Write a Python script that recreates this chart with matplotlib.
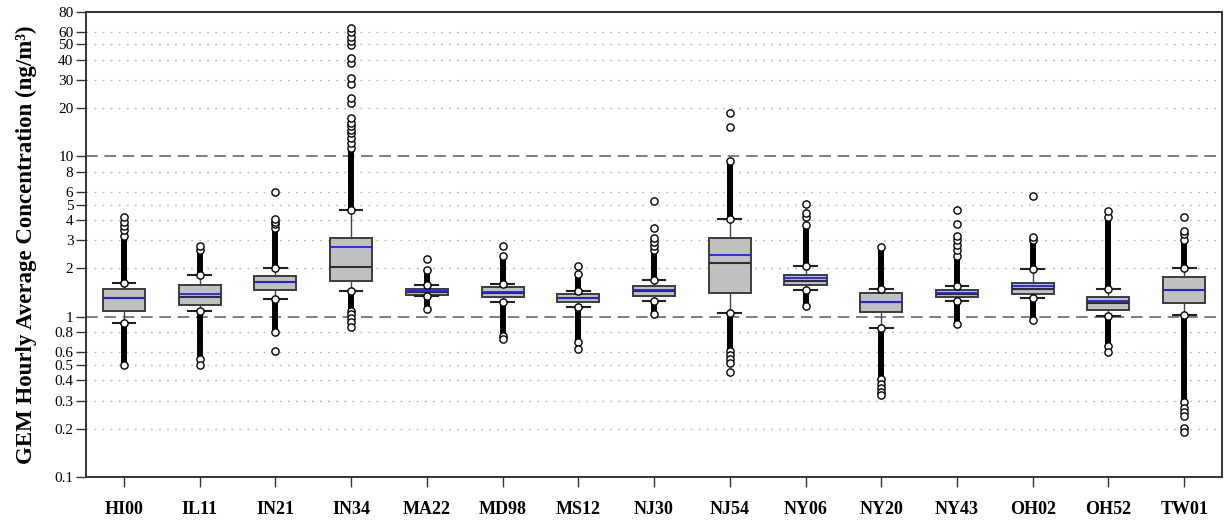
import matplotlib
matplotlib.use("Agg")
import matplotlib.pyplot as plt
from matplotlib.ticker import FixedLocator, NullLocator

# Monitoring sites
stations = ["HI00", "IL11", "IN21", "IN34", "MA22", "MD98", "MS12", "NJ30",
            "NJ54", "NY06", "NY20", "NY43", "OH02", "OH52", "TW01"]

# Box statistics (ng/m3)
q1 = [1.090, 1.180, 1.463, 1.681, 1.370, 1.324, 1.232, 1.342,
      1.410, 1.571, 1.074, 1.324, 1.382, 1.094, 1.222]
median = [1.300, 1.331, 1.645, 2.033, 1.420, 1.400, 1.300, 1.440,
          2.165, 1.681, 1.235, 1.380, 1.499, 1.222, 1.475]
mean = [1.305, 1.382, 1.650, 2.733, 1.450, 1.436, 1.312, 1.471,
        2.413, 1.754, 1.239, 1.402, 1.565, 1.262, 1.478]
q3 = [1.484, 1.587, 1.797, 3.110, 1.499, 1.527, 1.395, 1.549,
      3.110, 1.813, 1.416, 1.463, 1.626, 1.318, 1.762]
whisker_low = [0.918, 1.090, 1.299, 1.442, 1.337, 1.239, 1.154, 1.257,
               1.048, 1.471, 0.846, 1.245, 1.312, 1.014, 1.023]
whisker_high = [1.633, 1.832, 2.004, 4.660, 1.587, 1.610, 1.456, 1.705,
                4.080, 2.074, 1.499, 1.558, 1.995, 1.499, 2.004]

# Extent of the continuous band of outliers beyond each whisker
band_high = [3.17, 2.62, 3.57, 11.3, 1.967, 2.40, 1.839, 2.62,
             9.39, 3.74, 2.72, 2.38, 3.02, 4.16, 3.02]
band_low = [0.499, 0.543, 0.802, 1.083, 1.110, 0.758, 0.695, 1.033,
            0.611, 1.164, 0.408, 0.896, 0.948, 0.657, 0.292]

# Isolated outliers beyond the bands
outliers_high = [
    [3.48, 3.69, 3.92, 4.18],
    [2.77],
    [3.80, 3.92, 4.05, 6.00],
    [12.1, 13.05, 14.0, 14.7, 15.4, 16.2, 17.4, 21.6, 23.3, 28.4, 30.8,
     38.1, 41.2, 49.6, 52.8, 55.9, 59.4, 63.3],
    [2.29],
    [2.745],
    [2.074],
    [2.77, 2.91, 3.10, 3.57, 5.28],
    [15.2, 18.6],
    [4.18, 4.46, 5.03],
    [],
    [2.62, 2.81, 3.02, 3.17, 3.80, 4.66],
    [3.14, 5.69],
    [4.59],
    [3.29, 3.45, 4.20],
]
outliers_low = [
    [],
    [0.503],
    [0.615],
    [1.033, 0.976, 0.922, 0.867],
    [],
    [0.723],
    [0.633],
    [],
    [0.575, 0.543, 0.513, 0.455],
    [],
    [0.380, 0.357, 0.340, 0.324],
    [],
    [],
    [0.598],
    [0.268, 0.253, 0.239, 0.203, 0.192],
]

ytick_values = [0.1, 0.2, 0.3, 0.4, 0.5, 0.6, 0.8, 1, 2, 3, 4, 5, 6, 8,
                10, 20, 30, 40, 50, 60, 80]
ytick_labels = ["0.1", "0.2", "0.3", "0.4", "0.5", "0.6", "0.8", "1", "2",
                "3", "4", "5", "6", "8", "10", "20", "30", "40", "50", "60",
                "80"]
reference_levels = [1, 10]

serif = ["Liberation Serif", "DejaVu Serif"]

fig = plt.figure(figsize=(12.25, 5.23), dpi=100)
ax = fig.add_axes([0.0702, 0.088, 0.9274, 0.8896])
ax.set_yscale("log")
ax.set_ylim(0.1, 80)
ax.set_xlim(0.5, 15.5)

positions = list(range(1, len(stations) + 1))

# dotted guide lines and dashed reference levels
for v in ytick_values:
    if v in reference_levels or v in (0.1, 80):
        continue
    ax.axhline(v, color="#b9b98a", lw=1.0, linestyle=(0, (1.2, 4.6)), zorder=0)
for v in reference_levels:
    ax.axhline(v, color="#6a6a6a", lw=1.2, linestyle=(0, (7, 4)), zorder=0.5)

stats = []
for i, name in enumerate(stations):
    stats.append(dict(label=name, q1=q1[i], med=median[i], mean=mean[i],
                      q3=q3[i], whislo=whisker_low[i], whishi=whisker_high[i],
                      fliers=[]))

ax.bxp(stats, positions=positions, widths=0.555, capwidths=0.30,
       patch_artist=True, showmeans=True, meanline=True, showfliers=False,
       boxprops=dict(facecolor="#c0c0c0", edgecolor="#3c3c3c", linewidth=1.4),
       medianprops=dict(color="#2e2e2e", linewidth=1.5),
       meanprops=dict(color="#2020ff", linewidth=1.3, linestyle="-"),
       whiskerprops=dict(color="#444444", linewidth=1.0),
       capprops=dict(color="#222222", linewidth=1.5))

# outlier bands and isolated outliers
for i, x in enumerate(positions):
    ax.vlines(x, whisker_high[i], band_high[i], color="black", lw=4.3, zorder=3)
    ax.vlines(x, band_low[i], whisker_low[i], color="black", lw=4.3, zorder=3)
    pts = ([whisker_high[i], band_high[i], whisker_low[i], band_low[i]]
           + outliers_high[i] + outliers_low[i])
    ax.plot([x] * len(pts), pts, linestyle="none", marker="o", ms=5.2,
            mfc="white", mec="black", mew=1.0, zorder=4)

ax.yaxis.set_major_locator(FixedLocator(ytick_values))
ax.yaxis.set_minor_locator(NullLocator())
ax.set_yticklabels(ytick_labels, fontfamily=serif, fontsize=11)
ax.set_xticks(positions)
ax.set_xticklabels(stations, fontfamily=serif, fontsize=13, fontweight="bold")

ax.tick_params(axis="y", direction="out", length=7, width=1.0, pad=2,
               color="#333333")
ax.tick_params(axis="x", direction="out", length=7, width=1.0, pad=10,
               color="#333333")
for side in ["left", "bottom", "top", "right"]:
    ax.spines[side].set_color("#333333")
    ax.spines[side].set_linewidth(1.4)

ax.set_ylabel("GEM Hourly Average Concentration (ng/m³)",
              fontfamily=serif, fontsize=16.5, fontweight="bold")
ax.yaxis.set_label_coords(-0.043, 0.5)

fig.savefig("out.png", dpi=100)
